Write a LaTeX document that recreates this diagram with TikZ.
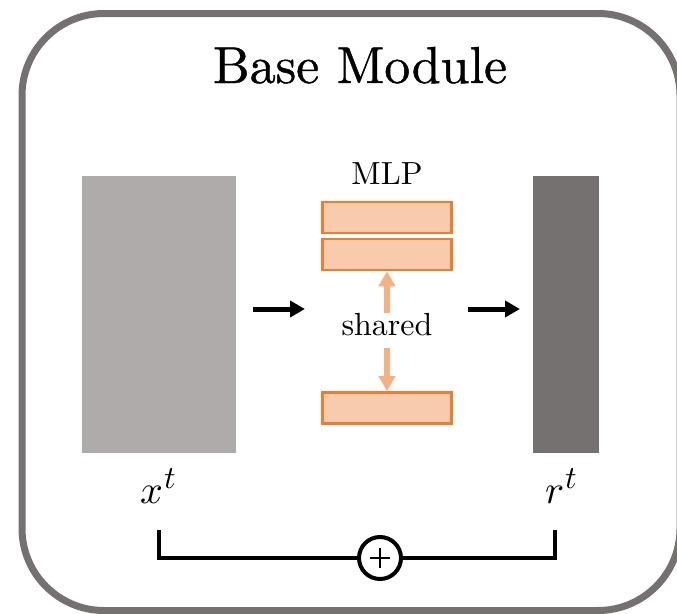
\documentclass[tikz,border=0pt]{standalone}
\usepackage{fontspec}
\usepackage{unicode-math}
\setmainfont{lmroman10-regular.otf}
\newfontfamily\titlefont[FakeBold=0.8]{lmroman10-regular.otf}
\usetikzlibrary{arrows.meta}
\definecolor{framegray}{HTML}{767171}
\definecolor{lightgray}{HTML}{AFABAB}
\definecolor{mlpfill}{HTML}{F8CBAD}
\definecolor{mlpline}{HTML}{ED7D31}
\definecolor{sharedarrow}{HTML}{F4B183}
% variable with a large raised index
\newcommand{\seqvar}[2]{{\fontsize{40}{46}\selectfont$#1$}\kern1pt\raisebox{15pt}{\fontsize{32}{36}\selectfont$#2$}}
\tikzset{
  layerbox/.style={draw=mlpline, fill=mlpfill, line width=2.6pt, minimum width=129pt, minimum height=31pt, inner sep=0pt},
  blkarrow/.style={line width=5pt, -{Triangle[length=15pt,width=16pt]}},
  sharearrow/.style={draw=sharedarrow, line width=6pt, -{Triangle[length=15pt,width=16pt]}},
  bracketline/.style={line width=4pt, line cap=butt},
  labeltext/.style={inner sep=0pt, anchor=base},
}
\begin{document}
\begin{tikzpicture}[x=1pt,y=-1pt]
  \useasboundingbox (0,0) rectangle (677,613);
  \clip (0,0) rectangle (677,613);

  % outer rounded frame
  \draw[framegray, line width=7pt, rounded corners=82pt] (22,13.5) rectangle (680,610.5);

  % title
  \node[labeltext] (title) at (360,83) {\fontsize{52}{60}\titlefont Base Module};

  % input and output blocks
  \node[fill=lightgray, minimum width=154pt, minimum height=277pt, inner sep=0pt] (xin) at (159,314.5) {};
  \node[fill=framegray, minimum width=66pt, minimum height=277pt, inner sep=0pt] (rout) at (566,314.5) {};

  % MLP layers
  \node[labeltext] (mlplabel) at (387,184) {\fontsize{32}{36}\selectfont MLP};
  \node[layerbox] (mlp1) at (387,217.5) {};
  \node[layerbox] (mlp2) at (387,254.5) {};
  \node[layerbox] (mlp3) at (387,408) {};

  % shared weights
  \node[labeltext] (shared) at (387,335) {\fontsize{32}{36}\selectfont shared};
  \coordinate (shtop) at (387,313);
  \coordinate (shbot) at (387,348);
  \draw[sharearrow] (shtop) -- (mlp2.south);
  \draw[sharearrow] (shbot) -- (mlp3.north);

  % data flow arrows
  \coordinate (a1s) at (253,309);
  \coordinate (a1e) at (305,309);
  \coordinate (a2s) at (468,309);
  \coordinate (a2e) at (520,309);
  \draw[blkarrow] (a1s) -- (a1e);
  \draw[blkarrow] (a2s) -- (a2e);

  % labels
  \node[labeltext] (xt) at (158,503) {\seqvar{x}{t}};
  \node[labeltext] (rt) at (561,503) {\seqvar{r}{t}};

  % residual sum
  \node[draw, circle, line width=4pt, minimum size=42pt, inner sep=0pt, fill=white] (plus) at (380,558) {};
  \draw[line width=1.2pt] ([xshift=-10pt]plus.center) -- ([xshift=10pt]plus.center);
  \draw[line width=1.2pt] ([yshift=-10pt]plus.center) -- ([yshift=10pt]plus.center);
  \coordinate (bl) at (159,530);
  \coordinate (br) at (555,530);
  \draw[bracketline] (bl) |- (plus.west);
  \draw[bracketline] (br) |- (plus.east);
\end{tikzpicture}
\end{document}
